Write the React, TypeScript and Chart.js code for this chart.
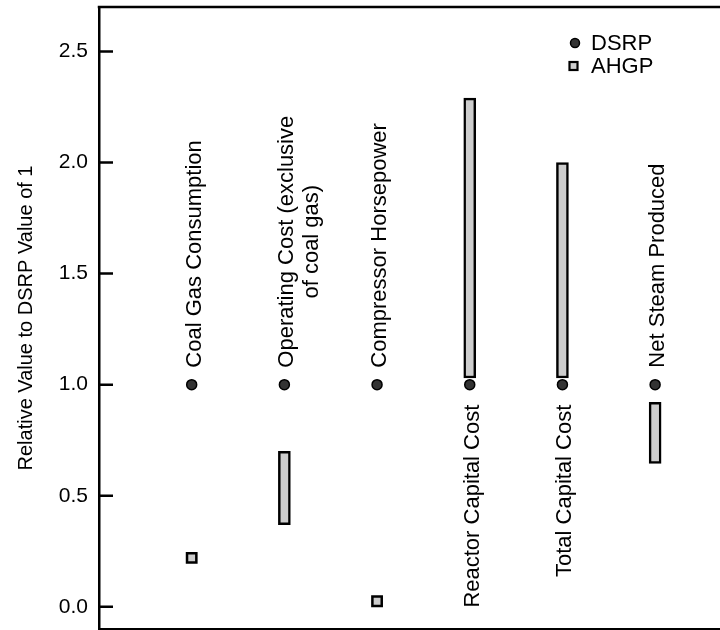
import React, { useEffect, useRef } from 'react';
import { Chart, registerables } from 'chart.js';

Chart.register(...registerables);

// ---- data ----
const categoryLabels: string[][] = [
  ['Coal Gas Consumption'],
  ['Operating Cost (exclusive', 'of coal gas)'],
  ['Compressor Horsepower'],
  ['Reactor Capital Cost'],
  ['Total Capital Cost'],
  ['Net Steam Produced'],
];
const categoryPositions = [1, 2, 3, 4, 5, 6];
const dsrpValues = [1, 1, 1, 1, 1, 1];
const ahgpLow = [0.22, 0.37, 0.025, 1.03, 1.03, 0.645];
const ahgpHigh = [0.22, 0.7, 0.025, 2.29, 2.0, 0.92];
const yTickValues = [0, 0.5, 1, 1.5, 2, 2.5];
const seriesNames = ['DSRP', 'AHGP'];
const yAxisTitle = 'Relative Value to DSRP Value of 1';

const FONT = "'Liberation Sans', Arial, Helvetica, sans-serif";
const BAR_FILL = '#cdcdcd';
const DOT_FILL = '#333333';

const framePlugin = {
  id: 'frame',
  afterDraw(chart: any) {
    const { ctx, chartArea, scales } = chart;
    const y = scales.y;
    ctx.save();
    ctx.strokeStyle = '#000';
    ctx.lineWidth = 2.5;
    ctx.beginPath();
    ctx.moveTo(chartArea.left - 1.25, chartArea.top);
    ctx.lineTo(chartArea.right, chartArea.top);
    ctx.stroke();
    ctx.beginPath();
    for (const v of yTickValues) {
      const py = y.getPixelForValue(v);
      ctx.moveTo(chartArea.left, py);
      ctx.lineTo(chartArea.left + 14, py);
    }
    ctx.stroke();
    ctx.restore();
  },
};

const categoryLabelPlugin = {
  id: 'categoryLabels',
  afterDatasetsDraw(chart: any) {
    const { ctx, scales } = chart;
    const xs = scales.x;
    const ys = scales.y;
    ctx.save();
    ctx.font = `22px ${FONT}`;
    ctx.fillStyle = '#000';
    ctx.textBaseline = 'alphabetic';
    categoryLabels.forEach((lines, i) => {
      const px = xs.getPixelForValue(categoryPositions[i]);
      const py = ys.getPixelForValue(dsrpValues[i]);
      const below = ahgpHigh[i] > dsrpValues[i];
      const widths = lines.map((l) => ctx.measureText(l).width);
      const maxW = Math.max(...widths);
      const anchorY = below ? py + 20 : py - 17;
      const centerY = below ? anchorY + maxW / 2 : anchorY - maxW / 2;
      lines.forEach((line, k) => {
        ctx.save();
        ctx.translate(px + 9 + k * 25, centerY);
        ctx.rotate(-Math.PI / 2);
        ctx.textAlign = 'center';
        ctx.fillText(line, 0, 0);
        ctx.restore();
      });
    });
    ctx.restore();
  },
};

const legendPlugin = {
  id: 'customLegend',
  afterDraw(chart: any) {
    const { ctx, chartArea } = chart;
    const x0 = chartArea.left + 476;
    const y0 = chartArea.top + 36;
    ctx.save();
    ctx.font = `22px ${FONT}`;
    ctx.textBaseline = 'middle';
    ctx.textAlign = 'left';
    // DSRP
    ctx.beginPath();
    ctx.arc(x0, y0, 4.5, 0, Math.PI * 2);
    ctx.fillStyle = DOT_FILL;
    ctx.fill();
    ctx.lineWidth = 1.5;
    ctx.strokeStyle = '#000';
    ctx.stroke();
    ctx.fillStyle = '#000';
    ctx.fillText(chart.data.datasets[0].label, x0 + 16, y0 + 1);
    // AHGP
    const y1 = y0 + 23;
    ctx.fillStyle = BAR_FILL;
    ctx.fillRect(x0 - 5.5, y1 - 4, 8, 8);
    ctx.lineWidth = 2.2;
    ctx.strokeStyle = '#000';
    ctx.strokeRect(x0 - 5.5, y1 - 4, 8, 8);
    ctx.fillStyle = '#000';
    ctx.fillText(chart.data.datasets[1].label, x0 + 16, y1 + 1);
    ctx.restore();
  },
};

export default function App() {
  const canvasRef = useRef<HTMLCanvasElement | null>(null);

  useEffect(() => {
    if (!canvasRef.current) return;
    Chart.defaults.font.family = FONT;
    Chart.defaults.color = '#000';

    const rangeData: any[] = [];
    const pointData: any[] = [];
    categoryPositions.forEach((x, i) => {
      if (ahgpHigh[i] > ahgpLow[i]) rangeData.push({ x, y: [ahgpLow[i], ahgpHigh[i]] });
      else pointData.push({ x, y: ahgpLow[i] });
    });

    const chart = new Chart(canvasRef.current, {
      type: 'bar',
      data: {
        datasets: [
          {
            type: 'scatter',
            label: seriesNames[0],
            data: categoryPositions.map((x, i) => ({ x, y: dsrpValues[i] })),
            pointStyle: 'circle',
            pointRadius: 5,
            backgroundColor: DOT_FILL,
            borderColor: '#000',
            borderWidth: 1.5,
          } as any,
          {
            type: 'bar',
            label: seriesNames[1],
            data: rangeData,
            backgroundColor: BAR_FILL,
            borderColor: '#000',
            borderWidth: 2.5,
            borderSkipped: false,
            barThickness: 12,
          } as any,
          {
            type: 'scatter',
            label: seriesNames[1] + ' (single value)',
            data: pointData,
            pointStyle: 'rect',
            pointRadius: 6.6,
            backgroundColor: BAR_FILL,
            borderColor: '#000',
            borderWidth: 2.5,
          } as any,
        ],
      },
      options: {
        animation: false,
        responsive: false,
        maintainAspectRatio: false,
        layout: { autoPadding: false, padding: { top: 7, bottom: 1, left: 0, right: 0 } },
        plugins: {
          legend: { display: false },
          tooltip: { enabled: false },
        },
        scales: {
          x: {
            type: 'linear',
            min: 0,
            max: 6.7,
            offset: false,
            ticks: { display: false },
            grid: { display: false, drawTicks: false },
            border: { display: true, color: '#000', width: 2.5 },
            afterFit: (s: any) => {
              s.height = 0;
              s.paddingLeft = 0;
              s.paddingRight = 0;
              s.paddingTop = 0;
              s.paddingBottom = 0;
            },
          },
          y: {
            type: 'linear',
            min: -0.1,
            max: 2.7,
            afterBuildTicks: (s: any) => {
              s.ticks = yTickValues.map((v) => ({ value: v }));
            },
            ticks: {
              callback: (v: any) => Number(v).toFixed(1),
              font: { size: 21, family: FONT },
              color: '#000',
              padding: 11,
            },
            grid: { display: false, drawTicks: false },
            border: { display: true, color: '#000', width: 2.5 },
            title: {
              display: true,
              text: yAxisTitle,
              font: { size: 20, family: FONT },
              color: '#000',
              padding: { top: 14, bottom: 0 },
            },
            afterFit: (s: any) => {
              s.width = 99;
              s.paddingLeft = 0;
              s.paddingRight = 0;
              s.paddingTop = 0;
              s.paddingBottom = 0;
            },
          },
        },
      } as any,
      plugins: [framePlugin, categoryLabelPlugin, legendPlugin],
    });

    return () => chart.destroy();
  }, []);

  return (
    <div style={{ position: 'absolute', left: 0, top: 0, width: 720, height: 630, background: '#fff' }}>
      <canvas ref={canvasRef} width={720} height={630} style={{ display: 'block' }} />
    </div>
  );
}
